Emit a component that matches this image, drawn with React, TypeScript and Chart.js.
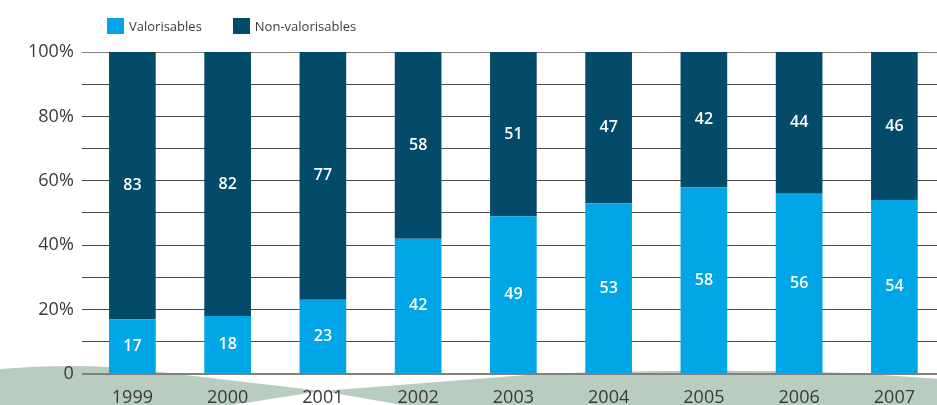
import React, { useEffect, useRef } from "react";
import { Chart, registerables } from "chart.js";

Chart.register(...registerables);

const years = ["1999", "2000", "2001", "2002", "2003", "2004", "2005", "2006", "2007"];
const valorisables = [17, 18, 23, 42, 49, 53, 58, 56, 54];
const nonValorisables = [83, 82, 77, 58, 51, 47, 42, 44, 46];
const seriesNames = ["Valorisables", "Non-valorisables"];

const LIGHT = "#00A6E6";
const DARK = "#034B69";
const GREEN = "#B8CDBF";
const TEXT = "#3a3a3a";
const FONT = "'Open Sans', 'Noto Sans', sans-serif";

const decorPlugin = {
  id: "decor",
  beforeDraw(chart: any) {
    const ctx = chart.ctx;
    ctx.save();
    ctx.fillStyle = GREEN;
    // left ribbon
    ctx.beginPath();
    ctx.moveTo(0, 369);
    ctx.quadraticCurveTo(85, 362, 160, 372);
    ctx.lineTo(322, 391);
    ctx.lineTo(232, 405);
    ctx.lineTo(0, 405);
    ctx.closePath();
    ctx.fill();
    // right ribbon
    ctx.beginPath();
    ctx.moveTo(322, 391);
    ctx.lineTo(540, 374);
    ctx.quadraticCurveTo(700, 368, 850, 373);
    ctx.lineTo(942, 379);
    ctx.lineTo(942, 405);
    ctx.lineTo(402, 405);
    ctx.closePath();
    ctx.fill();
    ctx.restore();
  },
};

const labelPlugin = {
  id: "barLabels",
  afterDatasetsDraw(chart: any) {
    const ctx = chart.ctx;
    ctx.save();
    ctx.fillStyle = "#ffffff";
    ctx.font = `600 16px ${FONT}`;
    ctx.textAlign = "center";
    ctx.textBaseline = "middle";
    chart.data.datasets.forEach((ds: any, di: number) => {
      const meta = chart.getDatasetMeta(di);
      meta.data.forEach((bar: any, i: number) => {
        const y = (bar.y + bar.base) / 2;
        ctx.fillText(String(ds.data[i]), bar.x, y);
      });
    });
    ctx.restore();
  },
};

export default function App() {
  const ref = useRef<HTMLCanvasElement | null>(null);

  useEffect(() => {
    document.body.style.margin = "0";
    document.body.style.overflow = "hidden";
    if (!ref.current) return;
    const chart = new Chart(ref.current, {
      type: "bar",
      data: {
        labels: years,
        datasets: [
          {
            label: seriesNames[0],
            data: valorisables,
            backgroundColor: LIGHT,
            categoryPercentage: 1,
            barPercentage: 0.49,
          },
          {
            label: seriesNames[1],
            data: nonValorisables,
            backgroundColor: DARK,
            categoryPercentage: 1,
            barPercentage: 0.49,
          },
        ],
      },
      options: {
        responsive: false,
        animation: false,
        devicePixelRatio: 1,
        layout: { padding: { top: 52, left: 20, right: 0, bottom: -16.5 } },
        plugins: {
          legend: { display: false },
          tooltip: { enabled: false },
        },
        scales: {
          x: {
            stacked: true,
            grid: { display: false, drawTicks: false },
            border: { display: false },
            ticks: {
              color: TEXT,
              font: { family: FONT, size: 18 },
              padding: 13,
              maxRotation: 0,
            },
          },
          y: {
            stacked: true,
            min: 0,
            max: 100,
            border: { display: false },
            grid: {
              drawTicks: true,
              tickLength: 3,
              color: (c: any) => (c.tick && (c.tick.value === 0 || c.tick.value === 100) ? "#808080" : "#4a4a4a"),
              tickColor: (c: any) => (c.tick && (c.tick.value === 0 || c.tick.value === 100) ? "#808080" : "#4a4a4a"),
              lineWidth: (c: any) => (c.tick && c.tick.value === 0 ? 2 : 1),
            },
            ticks: {
              stepSize: 10,
              padding: 8,
              color: TEXT,
              font: { family: FONT, size: 18 },
              callback: (v: any) => (v === 0 ? "0" : v % 20 === 0 ? v + "%" : ""),
            },
          },
        },
      },
      plugins: [decorPlugin, labelPlugin],
    });
    return () => chart.destroy();
  }, []);

  const legendItem = (color: string, text: string, ml: number) => (
    <div style={{ display: "flex", alignItems: "center", marginLeft: ml }}>
      <div style={{ width: 17, height: 16, background: color, marginRight: 5 }} />
      <span style={{ fontFamily: FONT, fontSize: 13, color: TEXT }}>{text}</span>
    </div>
  );

  return (
    <div style={{ position: "relative", width: 942, height: 405 }}>
      <canvas ref={ref} width={942} height={405} style={{ display: "block" }} />
      <div style={{ position: "absolute", left: 107, top: 17, display: "flex", alignItems: "center" }}>
        {legendItem(LIGHT, seriesNames[0], 0)}
        {legendItem(DARK, seriesNames[1], 31)}
      </div>
    </div>
  );
}
